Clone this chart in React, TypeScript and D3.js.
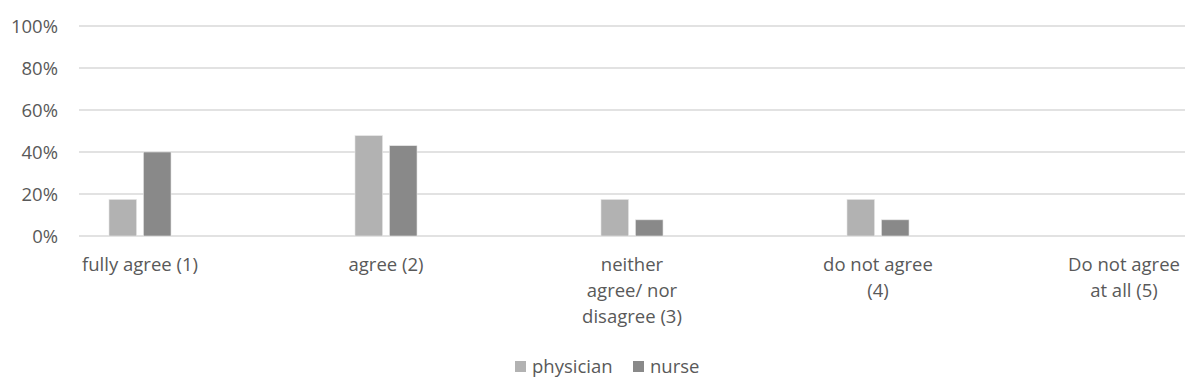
import React, { useEffect, useRef } from 'react'
import * as d3 from 'd3'

const categories = ['fully agree (1)', 'agree (2)', 'neither agree/ nor disagree (3)', 'do not agree (4)', 'Do not agree at all (5)']
const categoryLines = [
  ['fully agree (1)'],
  ['agree (2)'],
  ['neither', 'agree/ nor', 'disagree (3)'],
  ['do not agree', '(4)'],
  ['Do not agree', 'at all (5)'],
]
const seriesNames = ['physician', 'nurse']
const physician = [0.174, 0.478, 0.174, 0.174, 0]
const nurse = [0.4, 0.43, 0.077, 0.077, 0]
const yTicks = [0, 0.2, 0.4, 0.6, 0.8, 1]
const colors = ['#b2b2b2', '#898989']

const W = 1200
const H = 388
const FONT = '"Open Sans", Lato, sans-serif'
const FS = 18.5

function App() {
  const svgRef = useRef<SVGSVGElement>(null)

  useEffect(() => {
    const svg = d3.select(svgRef.current)
    svg.selectAll('*').remove()

    const gridLeft = 79
    const gridRight = 1185
    const y = d3.scaleLinear().domain([0, 1]).range([236, 26])
    const x = d3.scaleBand().domain(categories).range([17, 1247]).padding(0)
    const xs = d3.scaleBand().domain(seriesNames).range([0, x.bandwidth()]).paddingInner(0.2).paddingOuter(2.67)

    // gridlines
    svg.append('g')
      .selectAll('line')
      .data(yTicks)
      .join('line')
      .attr('x1', gridLeft)
      .attr('x2', gridRight)
      .attr('y1', d => y(d))
      .attr('y2', d => y(d))
      .attr('stroke', '#d9d9d9')
      .attr('stroke-width', 1.3)

    // y labels
    svg.append('g')
      .selectAll('text')
      .data(yTicks)
      .join('text')
      .attr('x', 58)
      .attr('y', d => y(d))
      .attr('dy', '0.36em')
      .attr('text-anchor', 'end')
      .attr('font-family', FONT)
      .attr('font-size', FS)
      .attr('fill', '#595959')
      .text(d => d3.format('.0%')(d))

    const series = [physician, nurse]
    series.forEach((vals, si) => {
      svg.append('g')
        .selectAll('rect')
        .data(vals)
        .join('rect')
        .attr('x', (d, i) => (x(categories[i]) as number) + (xs(seriesNames[si]) as number))
        .attr('y', d => y(d))
        .attr('width', xs.bandwidth())
        .attr('height', d => y(0) - y(d))
        .attr('fill', colors[si])
        .attr('stroke', d => (d > 0 ? '#e6e6e6' : 'none'))
        .attr('stroke-width', 0.6)
    })

    // x labels
    const xl = svg.append('g')
    categories.forEach((c, i) => {
      const cx = (x(c) as number) + x.bandwidth() / 2
      const t = xl.append('text')
        .attr('text-anchor', 'middle')
        .attr('font-family', FONT)
        .attr('font-size', FS)
        .attr('fill', '#595959')
      categoryLines[i].forEach((ln, j) => {
        t.append('tspan').attr('x', cx).attr('y', 271 + j * 26).text(ln)
      })
    })

    // legend
    const lg = svg.append('g').attr('transform', 'translate(515,366)')
    const offsets = [0, 118]
    seriesNames.forEach((s, i) => {
      const g = lg.append('g').attr('transform', `translate(${offsets[i]},0)`)
      g.append('rect').attr('x', 0).attr('y', -5).attr('width', 11).attr('height', 11).attr('fill', colors[i])
      g.append('text')
        .attr('x', 17)
        .attr('y', 0)
        .attr('dy', '0.36em')
        .attr('font-family', FONT)
        .attr('font-size', FS)
        .attr('fill', '#595959')
        .text(s)
    })
  }, [])

  return (
    <svg ref={svgRef} width={W} height={H} style={{ position: 'absolute', left: 0, top: 0, background: '#fff' }}></svg>
  )
}

export default App
